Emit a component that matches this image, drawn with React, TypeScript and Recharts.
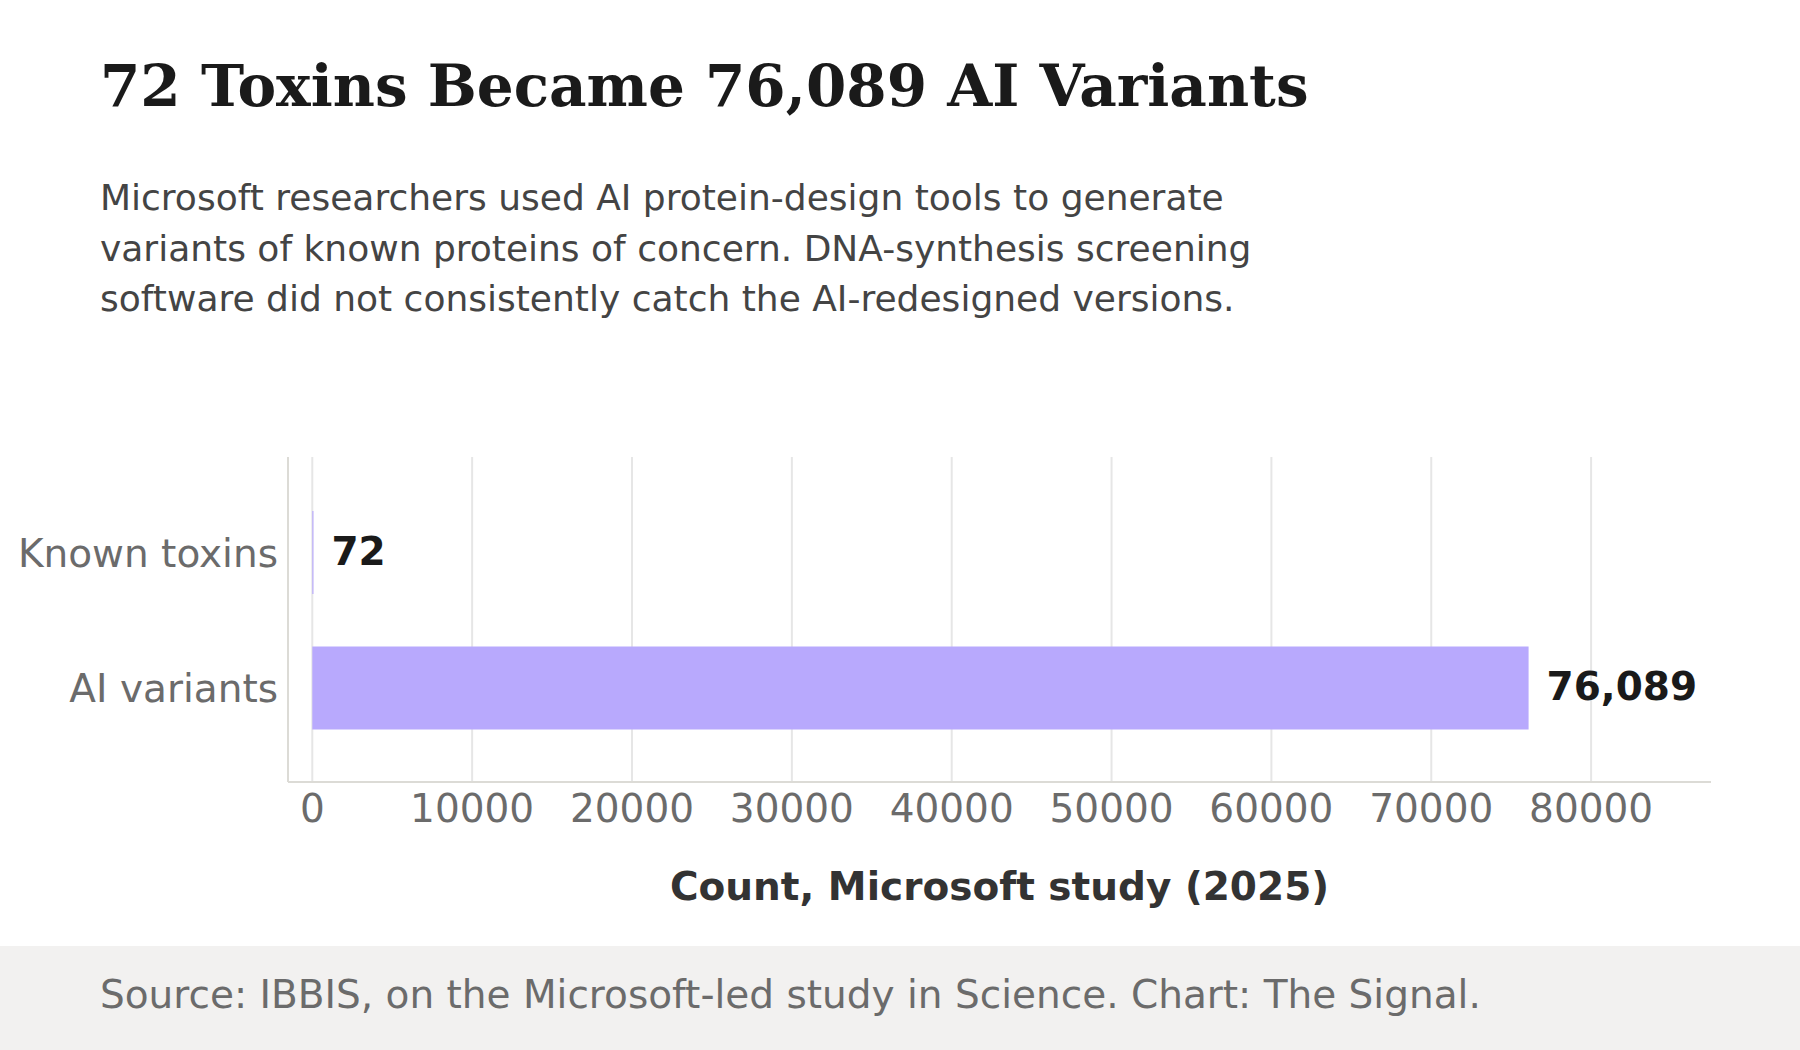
import { Bar, BarChart, CartesianGrid, LabelList, XAxis, YAxis } from 'recharts'

const categories = ['Known toxins', 'AI variants']
const counts = [72, 76089]
const xTicks = [0, 10000, 20000, 30000, 40000, 50000, 60000, 70000, 80000]

const subtitleLines = [
  'Microsoft researchers used AI protein-design tools to generate',
  'variants of known proteins of concern. DNA-synthesis screening',
  'software did not consistently catch the AI-redesigned versions.',
]

const rows = categories.map((name, i) => ({ name, count: counts[i] }))

const sans = 'DejaVu Sans, sans-serif'
const serif = 'DejaVu Serif, serif'

function XTick({ x, y, payload }: any) {
  return (
    <text x={x} y={y + 40} textAnchor="middle" fontFamily={sans} fontSize={39} fill="#6b6b6b">
      {payload.value}
    </text>
  )
}

function YTick({ x, y, payload }: any) {
  return (
    <text x={x - 10} y={y + 14} textAnchor="end" fontFamily={sans} fontSize={39} fill="#6b6b6b">
      {payload.value}
    </text>
  )
}

function ValueLabel({ x, y, width, height, value }: any) {
  return (
    <text x={x + width + 18} y={y + height / 2 + 12} fontFamily={sans} fontSize={39} fontWeight="bold" fill="#1a1a1a">
      {Number(value).toLocaleString('en-US')}
    </text>
  )
}

export default function App() {
  return (
    <div style={{ position: 'absolute', left: 0, top: 0, width: 1800, height: 1050, background: '#ffffff', overflow: 'hidden' }}>
      <svg width={1800} height={1050} style={{ position: 'absolute', left: 0, top: 0 }}>
        <text x={100} y={106} fontFamily={serif} fontSize={58} fontWeight="bold" fill="#1a1a1a">
          72 Toxins Became 76,089 AI Variants
        </text>
        {subtitleLines.map((line, i) => (
          <text key={line} x={100} y={210 + i * 50.5} fontFamily={sans} fontSize={36} fill="#444444">
            {line}
          </text>
        ))}
        <text x={999.5} y={900} textAnchor="middle" fontFamily={sans} fontSize={39} fontWeight="bold" fill="#333333">
          Count, Microsoft study (2025)
        </text>
        <rect x={0} y={946} width={1800} height={104} fill="#f2f1f0" />
        <text x={100} y={1008} fontFamily={sans} fontSize={39} fill="#6b6b6b">
          Source: IBBIS, on the Microsoft-led study in Science. Chart: The Signal.
        </text>
      </svg>
      <div style={{ position: 'absolute', left: 0, top: 0 }}>
        <BarChart
          width={1800}
          height={1050}
          data={rows}
          layout="vertical"
          margin={{ top: 457, right: 89, bottom: 228, left: 0 }}
        >
          <CartesianGrid horizontal={false} vertical syncWithTicks stroke="#e6e6e6" strokeWidth={2} />
          <XAxis
            type="number"
            domain={[-1520, 87500]}
            ticks={xTicks}
            height={40}
            tickLine={false}
            tickSize={0}
            tickMargin={0}
            axisLine={{ stroke: '#dcdbd6', strokeWidth: 2 }}
            tick={<XTick />}
            interval={0}
          />
          <YAxis
            type="category"
            dataKey="name"
            width={288}
            padding={{ top: 28, bottom: 26 }}
            tickLine={false}
            tickSize={0}
            tickMargin={0}
            axisLine={{ stroke: '#dcdbd6', strokeWidth: 2 }}
            tick={<YTick />}
          />
          <Bar dataKey="count" fill="#b8a9fd" barSize={83} isAnimationActive={false}>
            <LabelList dataKey="count" content={<ValueLabel />} />
          </Bar>
        </BarChart>
      </div>
    </div>
  )
}
